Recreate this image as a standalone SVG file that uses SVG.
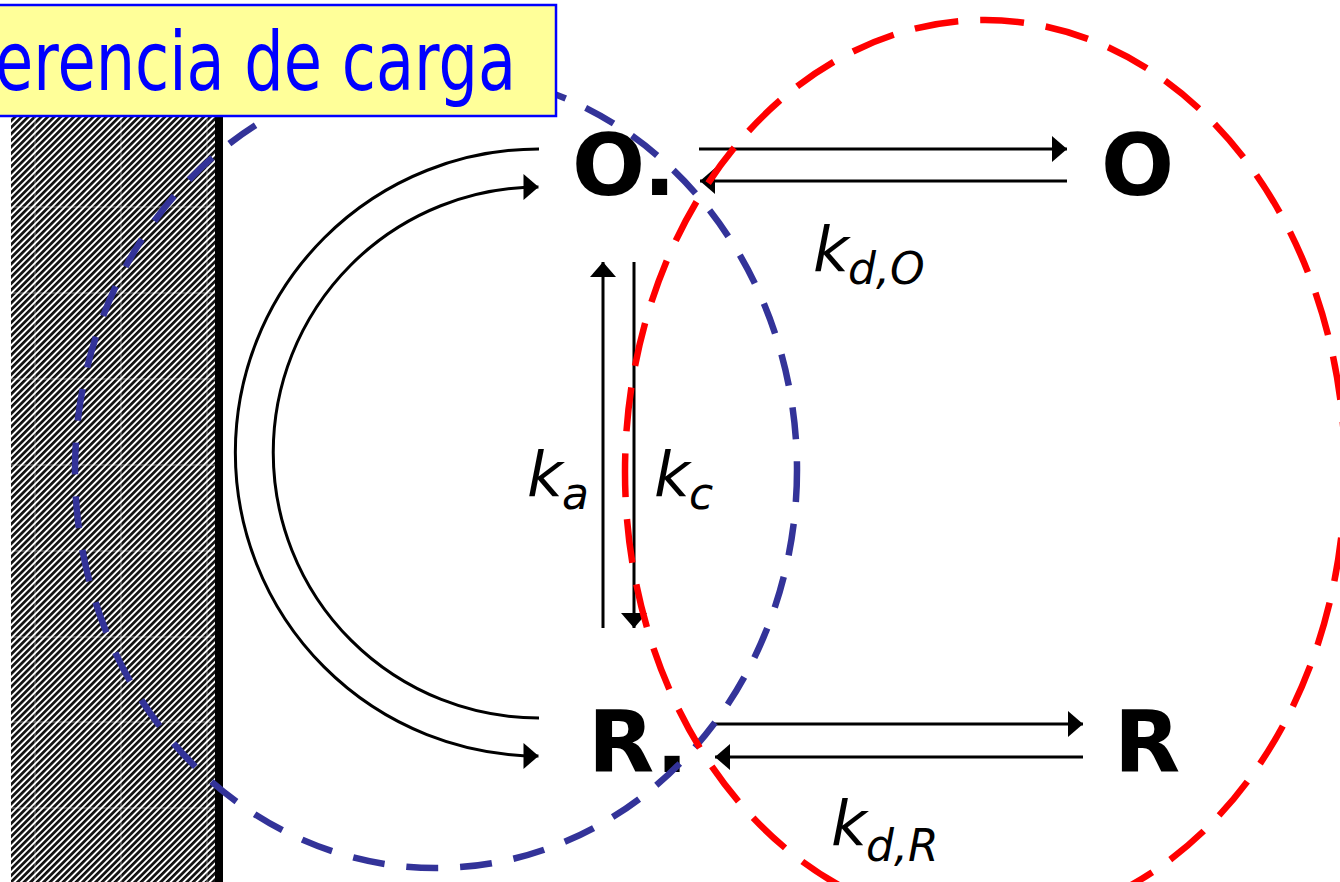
<svg xmlns="http://www.w3.org/2000/svg" width="1340" height="882" viewBox="0 0 1340 882">
  <style>
    .node { font-family: "DejaVu Sans", Verdana, sans-serif; font-weight: bold; font-size: 86px; fill: #000; }
    .k { font-family: "DejaVu Sans", Verdana, sans-serif; font-style: italic; font-size: 62px; fill: #000; }
    .sub { font-size: 44px; }
    .conn { fill: none; stroke: #000; stroke-width: 3; }
    .ell { fill: none; stroke-width: 6.5; }
    .title { font-family: "DejaVu Sans", Verdana, sans-serif; font-size: 82px; fill: #0000FF; }
  </style>
  <defs>
    <pattern id="hatch" patternUnits="userSpaceOnUse" width="4.6" height="4.6" patternTransform="rotate(45)">
      <rect width="4.6" height="4.6" fill="#ffffff"/>
      <rect width="2.7" height="4.6" fill="#111111"/>
    </pattern>
    <marker id="ah" viewBox="0 0 15 26" refX="15" refY="13" markerWidth="15" markerHeight="26" markerUnits="userSpaceOnUse" orient="auto">
      <path d="M0,0 L15,13 L0,26 Z" fill="#000"/>
    </marker>
  </defs>

  <rect width="1340" height="882" fill="#ffffff"/>

  <g id="electrode">
    <rect x="11" y="117" width="204" height="765" fill="url(#hatch)"/>
    <g stroke="#ffffff" stroke-width="1" opacity="0.45">
      <line x1="35" y1="117" x2="35" y2="882"/>
      <line x1="121" y1="117" x2="121" y2="882"/>
      <line x1="207" y1="117" x2="207" y2="882"/>
      <line x1="11" y1="207" x2="215" y2="207"/>
      <line x1="11" y1="293" x2="215" y2="293"/>
      <line x1="11" y1="379" x2="215" y2="379"/>
      <line x1="11" y1="465" x2="215" y2="465"/>
      <line x1="11" y1="551" x2="215" y2="551"/>
      <line x1="11" y1="637" x2="215" y2="637"/>
      <line x1="11" y1="722" x2="215" y2="722"/>
      <line x1="11" y1="808" x2="215" y2="808"/>
    </g>
    <rect x="215" y="117" width="8" height="765" fill="#000"/>
  </g>

  <g id="connectors">
    <path class="conn" d="M699,149 L1067,149" marker-end="url(#ah)"/>
    <path class="conn" d="M1067,181 L700,181" marker-end="url(#ah)"/>
    <path class="conn" d="M714,724 L1083,724" marker-end="url(#ah)"/>
    <path class="conn" d="M1083,757 L715,757" marker-end="url(#ah)"/>
    <path class="conn" d="M603,628 L603,262" marker-end="url(#ah)"/>
    <path class="conn" d="M634,262 L634,628" marker-end="url(#ah)"/>
    <path class="conn" d="M539,149 A303.5,303.5 0 0 0 538.5,756" marker-end="url(#ah)"/>
    <path class="conn" d="M539,718 A265.5,265.5 0 0 1 538.5,187" marker-end="url(#ah)"/>
  </g>

  <g id="node-O-dot"><text class="node" x="572" y="195">O.</text></g>
  <g id="node-O"><text class="node" x="1101" y="195">O</text></g>
  <g id="node-R-dot"><text class="node" x="588" y="772">R.</text></g>
  <g id="node-R"><text class="node" x="1114" y="772">R</text></g>

  <g id="labels">
    <text class="k" x="527" y="496">k<tspan class="sub" x="562" y="509">a</tspan></text>
    <text class="k" x="654" y="496">k<tspan class="sub" x="689" y="509">c</tspan></text>
    <text class="k" x="813" y="271">k<tspan class="sub" x="848" y="284">d,O</tspan></text>
    <text class="k" x="831" y="845">k<tspan class="sub" x="866" y="861">d,R</tspan></text>
  </g>

  <g id="regions">
    <ellipse class="ell" cx="436" cy="470" rx="361" ry="398" stroke="#333399" stroke-dasharray="32 22"/>
    <ellipse class="ell" cx="985" cy="472" rx="360" ry="452" stroke="#FF0000" stroke-dasharray="44 22"/>
  </g>

  <g id="title">
    <rect x="-3" y="5" width="559" height="111" fill="#FFFF99" stroke="#0000FF" stroke-width="2.5"/>
    <text class="title" x="-5" y="90" textLength="521" lengthAdjust="spacingAndGlyphs">erencia de carga</text>
  </g>
</svg>
